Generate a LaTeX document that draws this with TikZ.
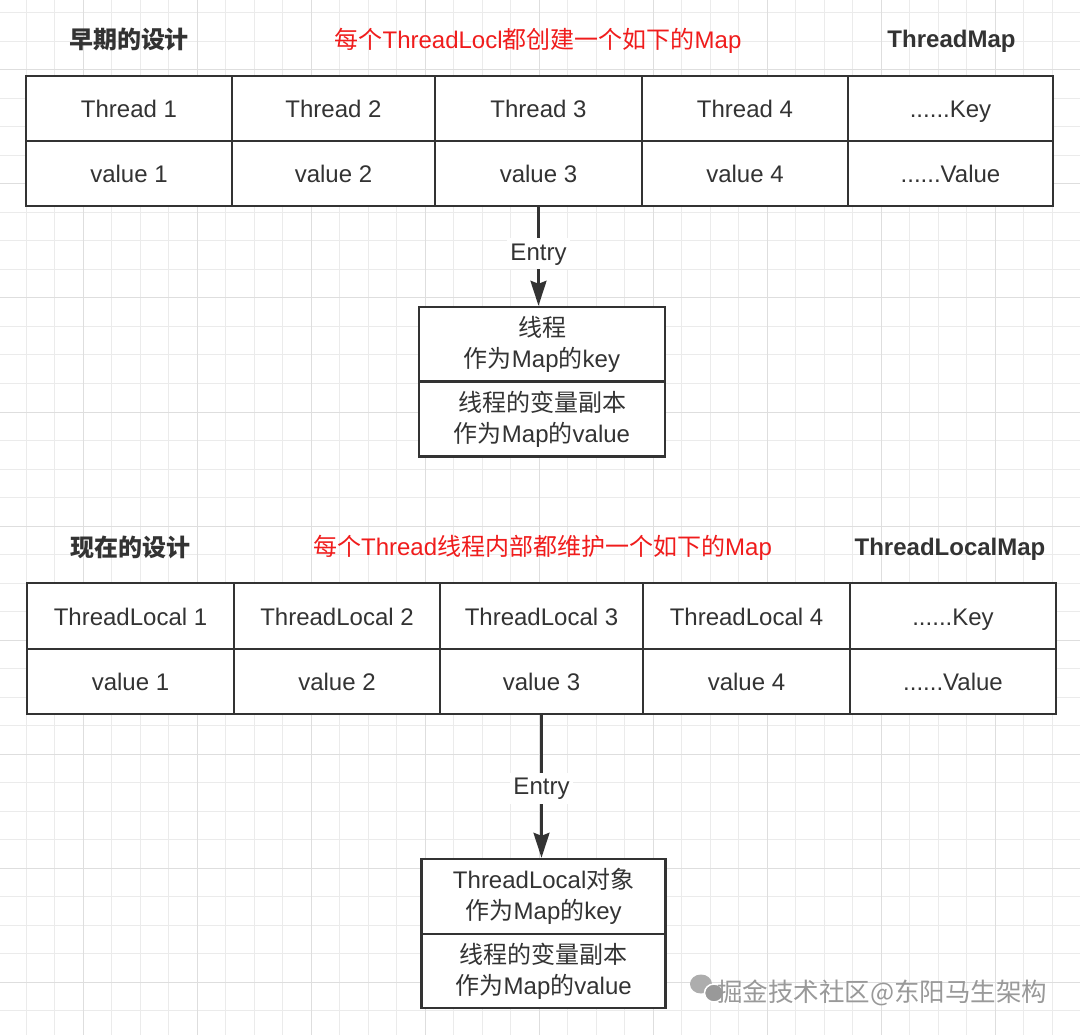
\documentclass[tikz,border=0pt]{standalone}
\usepackage{fontspec}
\setmainfont{Liberation Sans}
\newfontfamily\cjk{Noto Sans CJK SC}
\usetikzlibrary{arrows.meta}
\definecolor{ink}{HTML}{333333}
\definecolor{gridminor}{HTML}{EBEBEB}
\definecolor{gridmajor}{HTML}{DEDEDE}
\definecolor{redtext}{HTML}{F01C1C}
\definecolor{wmark}{HTML}{999999}
\begin{document}
\begin{tikzpicture}[x=1pt,y=-1pt,
  cell/.style={draw=ink, line width=2.5pt, fill=white, text=ink, inner sep=0pt,
    font=\fontsize{24}{31}\selectfont, align=center, anchor=center},
  one/.style={text height=18pt, text depth=0pt},
  title/.style={text=ink, font=\fontsize{24}{28}\selectfont\bfseries, inner sep=0pt, anchor=base},
  redtitle/.style={text=redtext, font=\fontsize{24}{28}\selectfont, inner sep=0pt, anchor=base},
  conn/.style={draw=ink, line width=2.5pt, -{Stealth[length=25pt,width=16pt,inset=3pt]}},
  lbl/.style={fill=white, text=ink, font=\fontsize{24}{28}\selectfont, inner xsep=3pt, inner ysep=4pt,
    text height=18pt, text depth=5pt},
  wm/.style={text=wmark, font=\fontsize{25.5}{28}\selectfont\cjk, inner sep=0pt}
]
\useasboundingbox (0,0) rectangle (1080,1035);
\fill[white] (0,0) rectangle (1080,1035);
% grid
\foreach \k in {0,...,36} {\draw[gridminor, line width=1pt] (26+28.5*\k,0) -- (26+28.5*\k,1035);}
\foreach \k in {0,...,35} {\draw[gridminor, line width=1pt] (0,13+28.5*\k) -- (1080,13+28.5*\k);}
\foreach \k in {2,6,...,34} {\draw[gridmajor, line width=1pt] (26+28.5*\k,0) -- (26+28.5*\k,1035);}
\foreach \k in {2,6,...,34} {\draw[gridmajor, line width=1pt] (0,13+28.5*\k) -- (1080,13+28.5*\k);}

% ---- top section ----
\node[title] (t1) at (129,49) {\cjk 早期的设计};
\node[redtitle] (t2) at (538,49) {{\cjk 每个}ThreadLocl{\cjk 都创建一个如下的}Map};
\node[title] (t3) at (951.5,47.5) {ThreadMap};

\node[cell, one, minimum width=206pt, minimum height=65pt] (a1k) at (129,108.5) {Thread 1};
\node[cell, one, minimum width=203pt, minimum height=65pt] (a2k) at (333.5,108.5) {Thread 2};
\node[cell, one, minimum width=207pt, minimum height=65pt] (a3k) at (538.5,108.5) {Thread 3};
\node[cell, one, minimum width=206pt, minimum height=65pt] (a4k) at (745,108.5) {Thread 4};
\node[cell, one, minimum width=205pt, minimum height=65pt] (a5k) at (950.5,108.5) {......Key};
\node[cell, one, minimum width=206pt, minimum height=65pt] (a1v) at (129,173.5) {value 1};
\node[cell, one, minimum width=203pt, minimum height=65pt] (a2v) at (333.5,173.5) {value 2};
\node[cell, one, minimum width=207pt, minimum height=65pt] (a3v) at (538.5,173.5) {value 3};
\node[cell, one, minimum width=206pt, minimum height=65pt] (a4v) at (745,173.5) {value 4};
\node[cell, one, minimum width=205pt, minimum height=65pt] (a5v) at (950.5,173.5) {......Value};

\node[cell, minimum width=246pt, minimum height=75pt] (e1k) at (542,344.5) {{\cjk 线程}\\{\cjk 作为}Map{\cjk 的}key};
\node[cell, minimum width=246pt, minimum height=75pt] (e1v) at (542,419) {{\cjk 线程的变量副本}\\{\cjk 作为}Map{\cjk 的}value};

\draw[conn] (a3v.south) -- node[lbl, pos=0.47] {Entry} (a3v.south |- e1k.north);

% ---- bottom section ----
\node[title] (b1) at (130.5,556) {\cjk 现在的设计};
\node[redtitle] (b2) at (542.5,555) {{\cjk 每个}Thread{\cjk 线程内部都维护一个如下的}Map};
\node[title] (b3) at (950,555) {ThreadLocalMap};

\node[cell, one, minimum width=207pt, minimum height=66pt] (c1k) at (130.5,616) {ThreadLocal 1};
\node[cell, one, minimum width=206pt, minimum height=66pt] (c2k) at (337,616) {ThreadLocal 2};
\node[cell, one, minimum width=203pt, minimum height=66pt] (c3k) at (541.5,616) {ThreadLocal 3};
\node[cell, one, minimum width=207pt, minimum height=66pt] (c4k) at (746.5,616) {ThreadLocal 4};
\node[cell, one, minimum width=206pt, minimum height=66pt] (c5k) at (953,616) {......Key};
\node[cell, one, minimum width=207pt, minimum height=65pt] (c1v) at (130.5,681.5) {value 1};
\node[cell, one, minimum width=206pt, minimum height=65pt] (c2v) at (337,681.5) {value 2};
\node[cell, one, minimum width=203pt, minimum height=65pt] (c3v) at (541.5,681.5) {value 3};
\node[cell, one, minimum width=207pt, minimum height=65pt] (c4v) at (746.5,681.5) {value 4};
\node[cell, one, minimum width=206pt, minimum height=65pt] (c5v) at (953,681.5) {......Value};

\node[cell, minimum width=244pt, minimum height=75pt] (e2k) at (543.7,896.5) {ThreadLocal{\cjk 对象}\\{\cjk 作为}Map{\cjk 的}key};
\node[cell, minimum width=244pt, minimum height=74pt] (e2v) at (543.7,971) {{\cjk 线程的变量副本}\\{\cjk 作为}Map{\cjk 的}value};

\draw[conn] (c3v.south) -- node[lbl, pos=0.514] {Entry} (c3v.south |- e2k.north);

% ---- watermark ----
\fill[wmark!80] (701,984) ellipse [x radius=11pt, y radius=9.5pt];
\fill[wmark, draw=white, line width=1.5pt] (714,993) ellipse [x radius=9.5pt, y radius=9pt];
\node[wm, anchor=west] (wmtext) at (717,993) {掘金技术社区@东阳马生架构};
\end{tikzpicture}
\end{document}
